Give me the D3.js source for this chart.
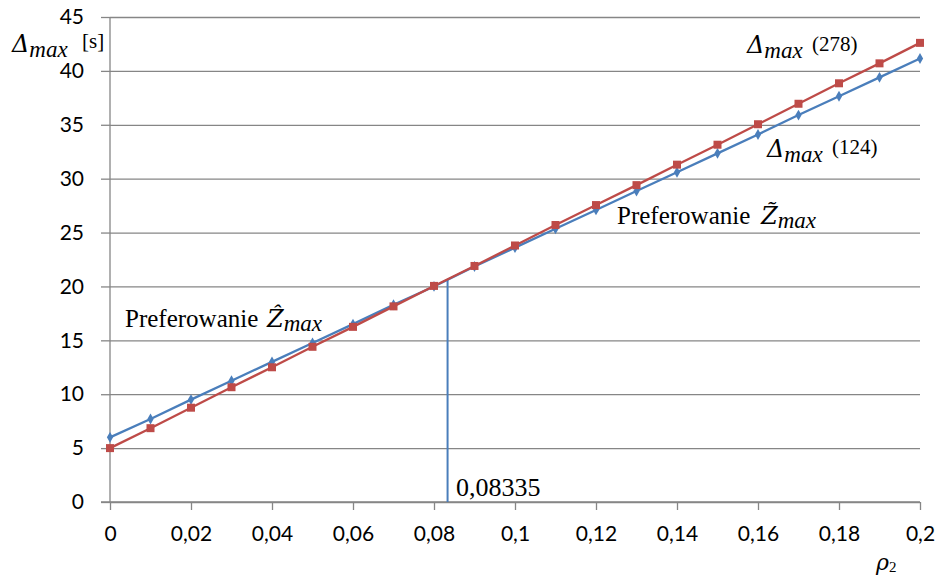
<!DOCTYPE html>
<html>
<head>
<meta charset="utf-8">
<script src="https://cdn.jsdelivr.net/npm/d3@7"></script>
<style>
  body { margin: 0; background: #fff; }
  svg { display: block; }
  .serif { font-family: "Liberation Serif", "DejaVu Serif", serif; fill: #000; }
  .math { font-family: "DejaVu Serif", "Liberation Serif", serif; font-style: italic; }
  .tick text { font-family: Lato, "Open Sans", sans-serif; font-size: 21px; fill: #000; }
</style>
</head>
<body>
<svg id="chart" width="940" height="579"></svg>
<script>
// ρ2 values along the horizontal axis
const rho = [0, 0.01, 0.02, 0.03, 0.04, 0.05, 0.06, 0.07, 0.08, 0.09, 0.1,
             0.11, 0.12, 0.13, 0.14, 0.15, 0.16, 0.17, 0.18, 0.19, 0.2];
// Δmax (124) — blue series, diamond markers
const delta124 = [6.0, 7.7, 9.5, 11.25, 13.0, 14.75, 16.5, 18.3, 20.0, 21.85, 23.6,
                  25.35, 27.1, 28.85, 30.6, 32.35, 34.1, 35.9, 37.65, 39.4, 41.15];
// Δmax (278) — red series, square markers
const delta278 = [5.0, 6.85, 8.75, 10.65, 12.5, 14.4, 16.25, 18.15, 20.05, 21.9, 23.8,
                  25.7, 27.55, 29.4, 31.3, 33.15, 35.05, 36.95, 38.85, 40.7, 42.6];
const xTicks = [0, 0.02, 0.04, 0.06, 0.08, 0.1, 0.12, 0.14, 0.16, 0.18, 0.2];
const yTicks = [0, 5, 10, 15, 20, 25, 30, 35, 40, 45];
// crossing point of the two curves
const crossRho = 0.08335;

const svg = d3.select("#chart");
const x = d3.scaleLinear().domain([0, 0.2]).range([110, 920]);
const y = d3.scaleLinear().domain([0, 45]).range([502, 17]);
const fmt = v => String(v).replace(".", ",");
const grid = "#868686";

// horizontal gridlines
svg.append("g")
  .attr("transform", "translate(110,0)")
  .call(d3.axisLeft(y).tickValues(yTicks).tickSize(-810).tickFormat(""))
  .call(g => g.select(".domain").remove())
  .call(g => g.selectAll("line").attr("stroke", grid).attr("stroke-width", 1.3));

// y axis with labels and outer ticks
svg.append("g")
  .attr("transform", "translate(110,0)")
  .call(d3.axisLeft(y).tickValues(yTicks).tickSize(9).tickPadding(17).tickFormat(d => d))
  .call(g => g.select(".domain").attr("stroke", grid).attr("stroke-width", 1.3)
    .attr("d", `M0,${y(45)}V${y(0)}`))
  .call(g => g.selectAll("line").attr("stroke", grid).attr("stroke-width", 1.3))
  .call(g => g.attr("font-family", null).attr("font-size", null));

// x axis
svg.append("g")
  .attr("transform", `translate(0,${y(0)})`)
  .call(d3.axisBottom(x).tickValues(xTicks).tickSize(8).tickPadding(16).tickFormat(fmt))
  .call(g => g.select(".domain").attr("stroke", grid).attr("stroke-width", 1.3)
    .attr("d", `M101,0H920`))
  .call(g => g.selectAll("line").attr("stroke", grid).attr("stroke-width", 1.3))
  .call(g => g.attr("font-family", null).attr("font-size", null));

const line = d3.line().x((d, i) => x(rho[i])).y(d => y(d));

// vertical marker at the crossing point
const i0 = 8;
const t = (crossRho - rho[i0]) / (rho[i0 + 1] - rho[i0]);
const crossVal = delta278[i0] + t * (delta278[i0 + 1] - delta278[i0]);
svg.append("line")
  .attr("x1", x(crossRho)).attr("x2", x(crossRho))
  .attr("y1", y(0)).attr("y2", y(crossVal))
  .attr("stroke", "#4a7ebb").attr("stroke-width", 2);

// blue series
svg.append("path").datum(delta124)
  .attr("d", line).attr("fill", "none")
  .attr("stroke", "#4a7ebb").attr("stroke-width", 2.3);
svg.append("g").selectAll("path").data(delta124).join("path")
  .attr("d", d3.symbol(d3.symbolDiamond, 34))
  .attr("transform", (d, i) => `translate(${x(rho[i])},${y(d)})`)
  .attr("fill", "#4a7ebb");

// red series
svg.append("path").datum(delta278)
  .attr("d", line).attr("fill", "none")
  .attr("stroke", "#be4b48").attr("stroke-width", 2.3);
svg.append("g").selectAll("rect").data(delta278).join("rect")
  .attr("x", (d, i) => x(rho[i]) - 4).attr("y", d => y(d) - 4)
  .attr("width", 8).attr("height", 8)
  .attr("fill", "#be4b48");

// Δmax label with a bracketed note: Δ at (px, py), note at (nx, ny)
function deltaMax(px, py, nx, ny, note) {
  const tx = svg.append("text").attr("class", "serif");
  tx.append("tspan").attr("class", "math").attr("x", px).attr("y", py)
    .attr("font-size", 24).text("Δ");
  tx.append("tspan").attr("font-style", "italic").attr("font-size", 23)
    .attr("dy", 5).text("max");
  svg.append("text").attr("class", "serif").attr("x", nx).attr("y", ny)
    .attr("font-size", 21).text(note);
}
deltaMax(12, 52, 82, 48, "[s]");
deltaMax(747, 53, 812, 51, "(278)");
deltaMax(767, 157, 832, 154, "(124)");

// "Preferowanie Z…max" annotation
function prefer(px, py, zx, accent) {
  const tx = svg.append("text").attr("class", "serif").attr("font-size", 25);
  tx.append("tspan").attr("x", px).attr("y", py).text("Preferowanie");
  tx.append("tspan").attr("class", "math").attr("x", zx).attr("font-size", 24)
    .text("Z" + accent);
  tx.append("tspan").attr("font-style", "italic").attr("font-size", 23).attr("dy", 4)
    .text("max");
}
prefer(617, 224, 761, "\u0303");
prefer(125, 327, 267, "\u0302");

svg.append("text").attr("class", "serif").attr("x", 456).attr("y", 496)
  .attr("font-size", 26).text(fmt(crossRho));

// ρ2 axis title
const rx = svg.append("text").attr("class", "serif").attr("x", 876).attr("y", 570);
rx.append("tspan").attr("class", "math").attr("font-size", 22).text("ρ");
rx.append("tspan").attr("font-size", 15).attr("dy", 2).text("2");
</script>
</body>
</html>
